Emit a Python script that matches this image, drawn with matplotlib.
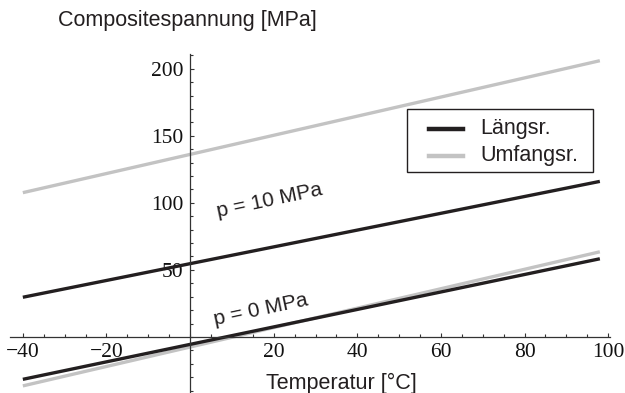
import matplotlib
matplotlib.use("Agg")
import matplotlib.pyplot as plt
from matplotlib.lines import Line2D
from matplotlib.patches import Rectangle
from matplotlib.ticker import FixedLocator, MultipleLocator

# Data (straight lines, end points)
temperatur = [-40, 98]
laengs_p10 = [29.6, 116.0]
umfang_p10 = [107.6, 206.0]
laengs_p0 = [-31.6, 58.3]
umfang_p0 = [-36.5, 63.5]

series_labels = ["Längsr.", "Umfangsr."]
x_ticks = [-40, -20, 20, 40, 60, 80, 100]
y_ticks = [50, 100, 150, 200]

BLACK = "#231f20"
GRAY = "#c3c3c3"
SANS = "Liberation Sans"
SERIF = "Liberation Serif"

W, H = 625, 393
fig = plt.figure(figsize=(W / 100, H / 100), dpi=100, facecolor="white")

# axes placed so that x=0 sits at px 190 and y=0 at px 337
left_px, right_px = 10.3, 610.3
top_px, bot_px = 54.0, 393.0
ax = fig.add_axes([left_px / W, 1 - bot_px / H,
                   (right_px - left_px) / W, (bot_px - top_px) / H])
ax.set_xlim(-43, 100.5)
ax.set_ylim(-41.8, 211)

ax.plot(temperatur, umfang_p10, color=GRAY, lw=2.4, solid_capstyle="butt")
ax.plot(temperatur, laengs_p10, color=BLACK, lw=2.4, solid_capstyle="butt")
ax.plot(temperatur, umfang_p0, color=GRAY, lw=2.4, solid_capstyle="butt")
ax.plot(temperatur, laengs_p0, color=BLACK, lw=2.4, solid_capstyle="butt")

# Mathematica-like axes crossing at the origin
for s in ["top", "right"]:
    ax.spines[s].set_visible(False)
ax.spines["left"].set_position(("data", 0))
ax.spines["bottom"].set_position(("data", 0))
for s in ["left", "bottom"]:
    ax.spines[s].set_color("#333333")
    ax.spines[s].set_linewidth(0.9)

ax.xaxis.set_major_locator(FixedLocator(x_ticks))
ax.xaxis.set_minor_locator(MultipleLocator(5))
ax.yaxis.set_major_locator(FixedLocator(y_ticks))
ax.yaxis.set_minor_locator(MultipleLocator(10))
ax.tick_params(which="both", direction="in", color="#333333", width=0.8)
ax.tick_params(which="major", length=3.2)
ax.tick_params(which="minor", length=1.9)
ax.tick_params(axis="x", which="major", pad=4.0)
ax.tick_params(axis="y", which="major", pad=4.8)
ax.set_xticklabels([f"\u2212{abs(v)}" if v < 0 else str(v) for v in x_ticks])
ax.set_yticklabels([str(v) for v in y_ticks])
for lab in ax.get_xticklabels() + ax.get_yticklabels():
    lab.set_fontfamily(SERIF)
    lab.set_fontsize(15.5)
    lab.set_color("#111111")
ax.patch.set_alpha(0)

# curve annotations
ax.text(19, 101.5, "p = 10 MPa", family=SANS, fontsize=15, color="#231f20",
        rotation=12, ha="center", va="center", rotation_mode="anchor")
ax.text(17, 20, "p = 0 MPa", family=SANS, fontsize=15, color="#231f20",
        rotation=12, ha="center", va="center", rotation_mode="anchor")

# axis labels
fig.text(58.3 / W, 1 - 26 / H, "Compositespannung [MPa]", family=SANS,
         fontsize=15.5, color="#231f20", ha="left", va="baseline")
fig.text(341 / W, 1 - 389 / H, "Temperatur [°C]", family=SANS,
         fontsize=15.5, color="#231f20", ha="center", va="baseline")

# legend box
fig.patches.append(Rectangle((406.7 / W, 1 - 171.7 / H), 186.3 / W, 62.7 / H,
                             transform=fig.transFigure, facecolor="white",
                             edgecolor=BLACK, lw=1.0, zorder=5))
for label, color, y in zip(series_labels, [BLACK, GRAY], [129, 156]):
    fig.lines.append(Line2D([429 / W, 463 / W], [1 - y / H, 1 - y / H],
                            transform=fig.transFigure, color=color, lw=3.2,
                            zorder=6))
    fig.text(480 / W, 1 - (y + 5) / H, label, family=SANS, fontsize=15.5,
             color="#231f20", ha="left", va="baseline", zorder=6)

fig.savefig("out.png", dpi=100, facecolor="white")
